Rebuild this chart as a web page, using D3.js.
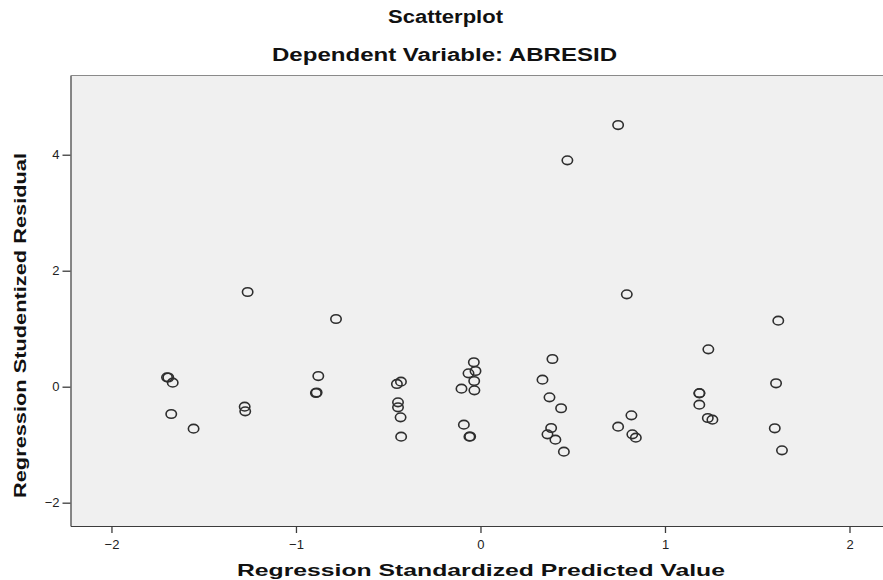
<!DOCTYPE html>
<html>
<head>
<meta charset="utf-8">
<script src="https://cdn.jsdelivr.net/npm/d3@7"></script>
<style>
  html, body { margin: 0; padding: 0; background: #ffffff; overflow: hidden; }
  svg { display: block; }
  text { font-family: "Liberation Sans", Arial, sans-serif; }
</style>
</head>
<body>
<svg id="chart" width="883" height="580"></svg>
<script>
// ---- Data ----
const predicted = [
  -1.699, -1.692, -1.668, -1.676, -1.555,
  -1.262, -1.278, -1.275,
  -0.879, -0.892, -0.888, -0.783,
  -0.431, -0.453, -0.447, -0.447, -0.433, -0.430,
  -0.036, -0.065, -0.027, -0.034, -0.103, -0.033, -0.090, -0.060, -0.056,
  0.390, 0.336, 0.374, 0.437, 0.383, 0.363, 0.406, 0.452, 0.471, 0.746,
  0.793, 0.746, 0.818, 0.823, 0.842,
  1.235, 1.186, 1.187, 1.186, 1.232, 1.257,
  1.614, 1.602, 1.595, 1.634
];
const residual = [
  0.162, 0.159, 0.069, -0.471, -0.724,
  1.633, -0.345, -0.424,
  0.184, -0.109, -0.100, 1.167,
  0.086, 0.047, -0.269, -0.355, -0.528, -0.862,
  0.421, 0.231, 0.271, 0.098, -0.034, -0.062, -0.655, -0.862, -0.859,
  0.478, 0.121, -0.183, -0.372, -0.712, -0.821, -0.914, -1.121, 3.903, 4.512,
  1.593, -0.690, -0.493, -0.821, -0.879,
  0.645, -0.114, -0.110, -0.310, -0.540, -0.569,
  1.138, 0.059, -0.717, -1.097
];
const xTicks = [-2, -1, 0, 1, 2];
const yTicks = [-2, 0, 2, 4];
const xDomain = [-2.222, 2.187];
const yDomain = [-2.402, 5.366];

const chartTitle = "Scatterplot";
const chartSubtitle = "Dependent Variable: ABRESID";
const xTitle = "Regression Standardized Predicted Value";
const yTitle = "Regression Studentized Residual";

const points = predicted.map((p, i) => ({ x: p, y: residual[i] }));

// ---- Layout ----
const svg = d3.select("#chart");
const plot = { left: 70.5, right: 884, top: 75.5, bottom: 526 };

const x = d3.scaleLinear().domain(xDomain).range([plot.left, plot.right]);
const y = d3.scaleLinear().domain(yDomain).range([plot.bottom, plot.top]);

// background
svg.append("rect")
  .attr("x", plot.left).attr("y", plot.top)
  .attr("width", plot.right - plot.left).attr("height", plot.bottom - plot.top)
  .attr("fill", "#f0f0f0");

// top border
svg.append("line")
  .attr("x1", plot.left).attr("x2", plot.right)
  .attr("y1", plot.top).attr("y2", plot.top)
  .attr("stroke", "#8a8a8a").attr("stroke-width", 1);

// axes
const xAxis = svg.append("g")
  .attr("transform", `translate(0,${plot.bottom})`)
  .call(d3.axisBottom(x).tickValues(xTicks).tickFormat(d3.format("d"))
    .tickSizeInner(7).tickSizeOuter(0).tickPadding(7));
const yAxis = svg.append("g")
  .attr("transform", `translate(${plot.left},0)`)
  .call(d3.axisLeft(y).tickValues(yTicks).tickFormat(d3.format("d"))
    .tickSizeInner(8).tickSizeOuter(0).tickPadding(3));

[xAxis, yAxis].forEach(g => {
  g.select(".domain").attr("stroke", "#3c3c3c").attr("stroke-width", 1.2);
  g.selectAll(".tick line").attr("stroke", "#3c3c3c").attr("stroke-width", 1.3);
  g.selectAll(".tick text")
    .attr("fill", "#222")
    .style("font-size", "13px")
    .style("font-family", "'Liberation Sans', Arial, sans-serif");
});

// points
svg.append("g").selectAll("ellipse")
  .data(points)
  .join("ellipse")
  .attr("cx", d => x(d.x))
  .attr("cy", d => y(d.y))
  .attr("rx", 5.2)
  .attr("ry", 4.3)
  .attr("fill", "none")
  .attr("stroke", "#2e2e2e")
  .attr("stroke-width", 1.6);

// titles
function addText(txt, cx, baseline, size, len, rotate) {
  const t = svg.append("text")
    .attr("text-anchor", "middle")
    .attr("font-weight", "bold")
    .attr("fill", "#111")
    .style("font-size", size + "px")
    .attr("textLength", len)
    .attr("lengthAdjust", "spacingAndGlyphs")
    .text(txt);
  if (rotate) {
    t.attr("transform", `translate(${cx},${baseline}) rotate(-90)`);
  } else {
    t.attr("x", cx).attr("y", baseline);
  }
  return t;
}
addText(chartTitle, 445.5, 23, 17.5, 115, false);
addText(chartSubtitle, 444.5, 61, 17.5, 345, false);
addText(xTitle, 481, 576, 16.5, 488, false);
addText(yTitle, 25.5, 325.5, 17, 345, true);
</script>
</body>
</html>
